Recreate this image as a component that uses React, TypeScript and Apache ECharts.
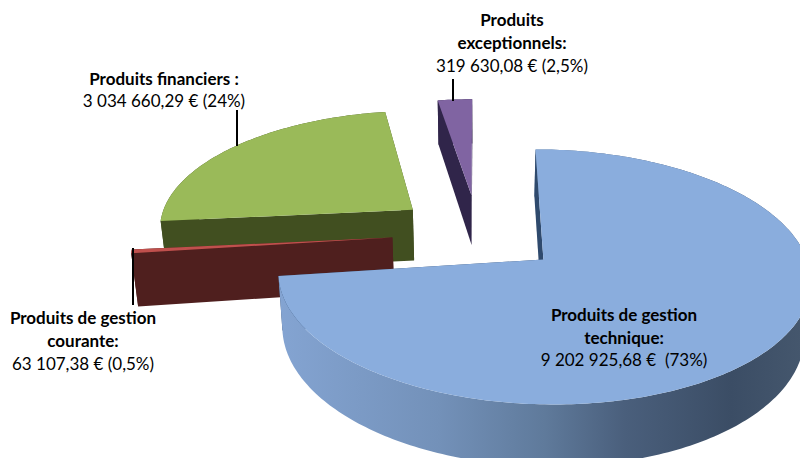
import React, { useEffect, useRef } from "react";
import * as echarts from "echarts";

// Revenue items, clockwise from twelve o'clock
const categories = ["Produits de gestion technique", "Produits de gestion courante", "Produits financiers", "Produits exceptionnels"];
const values = [9202925.68, 63107.38, 3034660.29, 319630.08];
const explosion = [0.33, 0.335, 0.33, 0.335];
const topColors = ["#8aaddd", "#c0504d", "#9aba59", "#8064a2"];
const wallColors = ["#2f4a6d", "#4f1f1e", "#414f20", "#30254a"];
const paintOrder = [3, 2, 1, 0];

const labelLines = [
  { text: "Produits", x: 512, y: 19, bold: true },
  { text: "exceptionnels:", x: 512, y: 42, bold: true },
  { text: "319 630,08 € (2,5%)", x: 512, y: 65, bold: false },
  { text: "Produits financiers :", x: 164, y: 78, bold: true },
  { text: "3 034 660,29 € (24%)", x: 164, y: 100, bold: false },
  { text: "Produits de gestion", x: 83, y: 317, bold: true },
  { text: "courante:", x: 83, y: 340, bold: true },
  { text: "63 107,38 € (0,5%)", x: 83, y: 363, bold: false },
  { text: "Produits de gestion", x: 624, y: 314, bold: true },
  { text: "technique:", x: 624, y: 337, bold: true },
  { text: "9 202 925,68 €  (73%)", x: 624, y: 359, bold: false },
];

const leaders = [
  [453, 79, 453, 101],
  [237, 110, 237, 146],
  [133, 248, 133, 305],
];

// Perspective projection of the tilted pie
const CX = 478;
const CY = 233;
const R = 256;
const RY = 118;
const TILT = 0.133;
const DEPTH = 52;
const BASE_SHRINK = 0.98;

function project(u: number, v: number, lowered: boolean): [number, number] {
  const s = 1 / (1 - TILT * v);
  let x = u * R * s;
  const y = v * RY * s + (lowered ? DEPTH * s : 0);
  if (lowered) x *= BASE_SHRINK;
  return [CX + x, CY + y];
}

const total = values.reduce((a, b) => a + b, 0);

function renderSlice(_params: any, api: any) {
  const index = api.value(0);
  const value = api.value(1);
  let before = 0;
  for (let k = 0; k < index; k++) before += values[k];
  const start = (before / total) * Math.PI * 2;
  const end = ((before + value) / total) * Math.PI * 2;
  const mid = (start + end) / 2;
  const e = explosion[index];
  const u0 = e * Math.sin(mid);
  const v0 = -e * Math.cos(mid);

  const steps = Math.max(3, Math.ceil(((end - start) * 180) / Math.PI));
  const rimTop: [number, number][] = [];
  const rimBase: [number, number][] = [];
  for (let k = 0; k <= steps; k++) {
    const a = start + ((end - start) * k) / steps;
    const u = u0 + Math.sin(a);
    const v = v0 - Math.cos(a);
    rimTop.push(project(u, v, false));
    rimBase.push(project(u, v, true));
  }
  const apexTop = project(u0, v0, false);
  const apexBase = project(u0, v0, true);

  const wall = wallColors[index];
  const rimFill =
    index === 0
      ? new echarts.graphic.LinearGradient(0, 0, 1, 0, [
          { offset: 0, color: "#84a4d2" },
          { offset: 0.3, color: "#7391b9" },
          { offset: 0.5, color: "#5f7a9b" },
          { offset: 0.65, color: "#4a5f7c" },
          { offset: 0.85, color: "#3b4d65" },
          { offset: 1, color: "#46586e" },
        ])
      : wall;

  const poly = (points: [number, number][], fill: any) => ({
    type: "polygon",
    shape: { points },
    style: { fill, stroke: null },
    silent: true,
  });

  // The closing cut face sits behind the curved wall, the opening one in front of it
  return {
    type: "group",
    children: [
      poly([apexTop, rimTop[steps], rimBase[steps], apexBase], wall),
      poly([...rimTop, ...[...rimBase].reverse()], rimFill),
      poly([apexTop, rimTop[0], rimBase[0], apexBase], wall),
      poly([apexTop, ...rimTop], topColors[index]),
    ],
  };
}

export default function App() {
  const ref = useRef<HTMLDivElement>(null);

  useEffect(() => {
    const chart = echarts.init(ref.current!, null, { renderer: "svg" });
    chart.setOption({
      animation: false,
      backgroundColor: "#ffffff",
      series: [
        {
          type: "custom",
          coordinateSystem: "none",
          name: "Produits",
          data: paintOrder.map((i) => ({ name: categories[i], value: [i, values[i]] })),
          renderItem: renderSlice,
          silent: true,
          z: 1,
        },
      ],
      graphic: [
        ...leaders.map(([x1, y1, x2, y2]) => ({
          type: "line",
          shape: { x1, y1, x2, y2 },
          style: { stroke: "#000000", lineWidth: 2 },
          z: 5,
          silent: true,
        })),
        ...labelLines.map((l) => ({
          type: "text",
          x: l.x,
          y: l.y,
          z: 6,
          silent: true,
          style: {
            text: l.text,
            x: 0,
            y: 0,
            align: "center",
            verticalAlign: "middle",
            fontFamily: "Lato",
            fontSize: 17,
            fontWeight: l.bold ? "bold" : "normal",
            fill: "#000000",
          },
        })),
      ],
    });
    return () => chart.dispose();
  }, []);

  return <div ref={ref} style={{ position: "absolute", left: 0, top: 0, width: 800, height: 458 }} />;
}
